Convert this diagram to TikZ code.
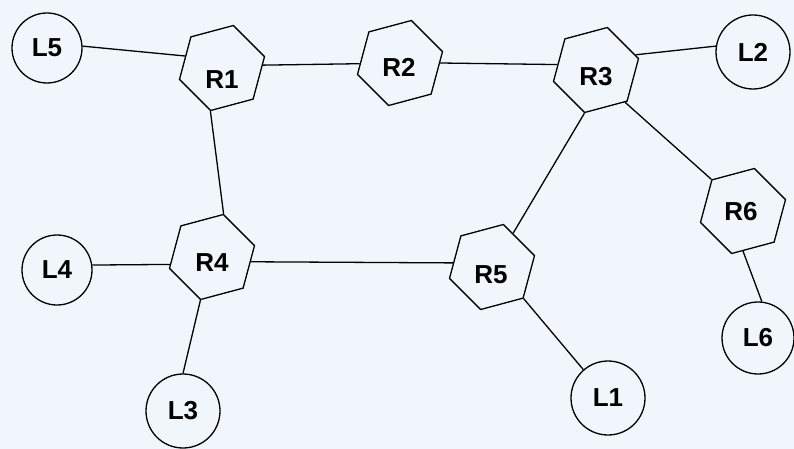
\documentclass[tikz,border=0pt]{standalone}
\usepackage{fontspec}
\setmainfont{Liberation Sans}
\usetikzlibrary{shapes.geometric}
\definecolor{bg}{RGB}{240,246,251}
\newcommand{\lblfont}{\fontsize{26}{30}\selectfont\bfseries}
\begin{document}
\begin{tikzpicture}[x=1pt,y=-1pt,
  hexnode/.style={regular polygon, regular polygon sides=6, shape border rotate=15,
    minimum size=88pt, inner sep=0pt, draw, line width=1.3pt},
  leaf/.style={circle, draw, line width=1.3pt, minimum size=#1, inner sep=0pt, font=\lblfont},
  lbl/.style={inner sep=0pt, font=\lblfont},
  edge/.style={line width=1.3pt}]
\fill[bg] (0,0) rectangle (794,449);
\useasboundingbox (0,0) rectangle (794,449);
% routers
\node[hexnode] (R1) at (222,68) {};
\node[hexnode] (R2) at (400,63) {};
\node[hexnode] (R3) at (596,70) {};
\node[hexnode] (R4) at (212,257) {};
\node[hexnode] (R5) at (492,267) {};
\node[hexnode] (R6) at (743,211) {};
\node[lbl] (R1t) at (222,80) {R1};
\node[lbl] (R2t) at (399,67) {R2};
\node[lbl] (R3t) at (596,77) {R3};
\node[lbl] (R4t) at (212,263) {R4};
\node[lbl] (R5t) at (491,275) {R5};
\node[lbl] (R6t) at (741,212) {R6};
% leaves
\node[leaf=70pt] (L5) at (47,48) {L5};
\node[leaf=74pt] (L2) at (753,52) {L2};
\node[leaf=70pt] (L4) at (57,270) {L4};
\node[leaf=74pt] (L3) at (183,411) {L3};
\node[leaf=74pt] (L1) at (608,398) {L1};
\node[leaf=72pt] (L6) at (758,338) {L6};
% edges
\draw[edge] (L5.3) -- (R1.162);
\draw[edge] (R1.4) -- (R2.181);
\draw[edge] (R2.0) -- (R3.172);
\draw[edge] (R3.21) -- (L2.171);
\draw[edge] (R3.312) -- (R6.135);
\draw[edge] (R3.255) -- (R5.58);
\draw[edge] (R1.255) -- (R4.75);
\draw[edge] (L4.8) -- (R4.190);
\draw[edge] (R4.353) -- (R5.174);
\draw[edge] (R4.255) -- (L3.90);
\draw[edge] (R5.315) -- (L1.131);
\draw[edge] (R6.270) -- (L6.84);
\end{tikzpicture}
\end{document}
